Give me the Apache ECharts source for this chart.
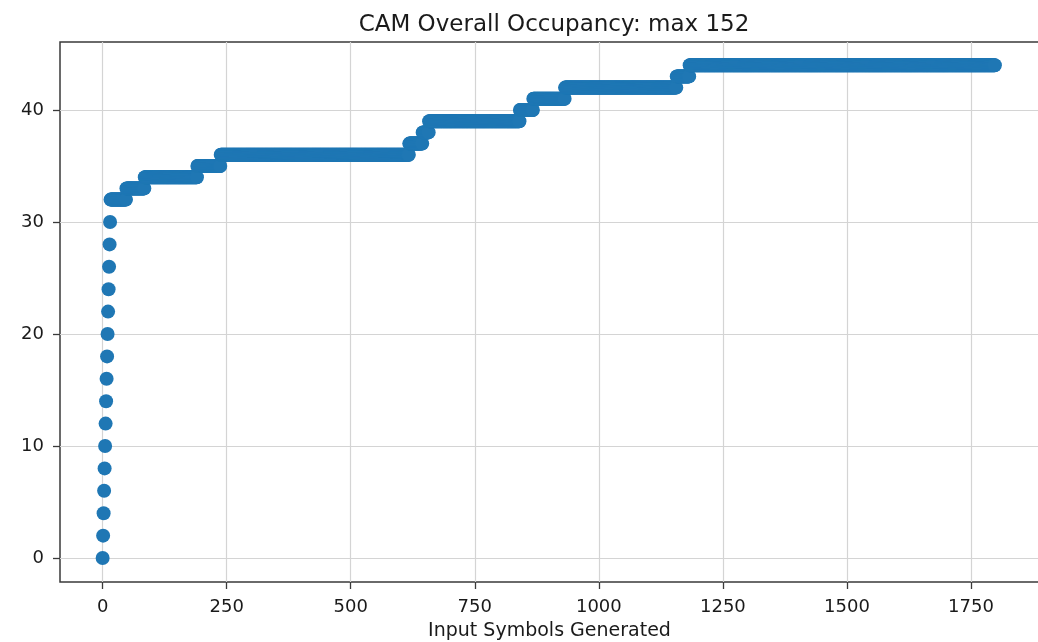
<!DOCTYPE html>
<html>
<head>
<meta charset="utf-8">
<title>CAM Overall Occupancy</title>
<script src="https://cdn.jsdelivr.net/npm/echarts@6/dist/echarts.min.js"></script>
<style>
  html, body { margin: 0; padding: 0; background: #fff; }
  #chart { width: 1038px; height: 642px; }
</style>
</head>
<body>
<div id="chart"></div>
<script>
// occupancy at symbols 0..15 (climbs 2 per symbol)
const rampValues = [0, 2, 4, 6, 8, 10, 12, 14, 16, 18, 20, 22, 24, 26, 28, 30]
// afterwards a step function: level held from its start symbol until the next one
const levelValues = [32, 33, 34, 35, 36, 37, 38, 39, 40, 41, 42, 43, 44]
const levelStarts = [16, 48, 85, 191, 238, 618, 645, 658, 841, 868, 932, 1157, 1183]
const lastSymbol = 1798
const xTicks = [0, 250, 500, 750, 1000, 1250, 1500, 1750]
const yTicks = [0, 10, 20, 30, 40]

const font = 'DejaVu Sans'
const textColor = '#1a1a1a'

function buildPoints() {
  const pts = []
  rampValues.forEach((v, i) => pts.push([i, v]))
  levelValues.forEach((lvl, i) => {
    const end = i + 1 < levelStarts.length ? levelStarts[i + 1] - 1 : lastSymbol
    for (let x = levelStarts[i]; x <= end; x++) pts.push([x, lvl])
  })
  return pts
}

const splitLine = {
  show: true,
  lineStyle: { color: '#d4d4d4', width: 1.2 },
}
const tickStyle = { color: '#3a3a3a', width: 1.3 }

const option = {
  animation: false,
  backgroundColor: '#fff',
  title: {
    text: 'CAM Overall Occupancy: max 152',
    left: 549,
    top: 9,
    textAlign: 'center',
    textStyle: { fontFamily: font, fontSize: 23, fontWeight: 'normal', color: textColor },
  },
  grid: {
    left: 60,
    top: 42,
    width: 979,
    height: 540,
    show: true,
    borderColor: '#3a3a3a',
    borderWidth: 1.5,
    containLabel: false,
    outerBoundsMode: 'none',
  },
  xAxis: {
    type: 'value',
    min: -85.9,
    max: 1887,
    name: 'Input Symbols Generated',
    nameLocation: 'middle',
    nameGap: 40,
    nameTextStyle: { fontFamily: font, fontSize: 19, color: textColor },
    axisLine: { show: false, onZero: false },
    axisTick: { show: true, length: 7, customValues: xTicks, lineStyle: tickStyle },
    axisLabel: {
      customValues: xTicks,
      margin: 16,
      fontFamily: font,
      fontSize: 18,
      color: textColor,
      formatter: v => String(v),
    },
    splitLine,
  },
  yAxis: {
    type: 'value',
    min: -2.14,
    max: 46.07,
    axisLine: { show: false, onZero: false },
    axisTick: { show: true, length: 7, customValues: yTicks, lineStyle: tickStyle },
    axisLabel: {
      customValues: yTicks,
      margin: 16,
      fontFamily: font,
      fontSize: 18,
      color: textColor,
      formatter: v => String(v),
    },
    splitLine,
  },
  series: [
    {
      type: 'scatter',
      data: buildPoints(),
      symbol: 'circle',
      symbolSize: 14,
      itemStyle: { color: '#1f77b4', opacity: 1 },
      emphasis: { disabled: true },
    },
  ],
}

const chart = echarts.init(document.getElementById('chart'), null, { renderer: 'canvas' })
chart.setOption(option)
</script>
</body>
</html>
